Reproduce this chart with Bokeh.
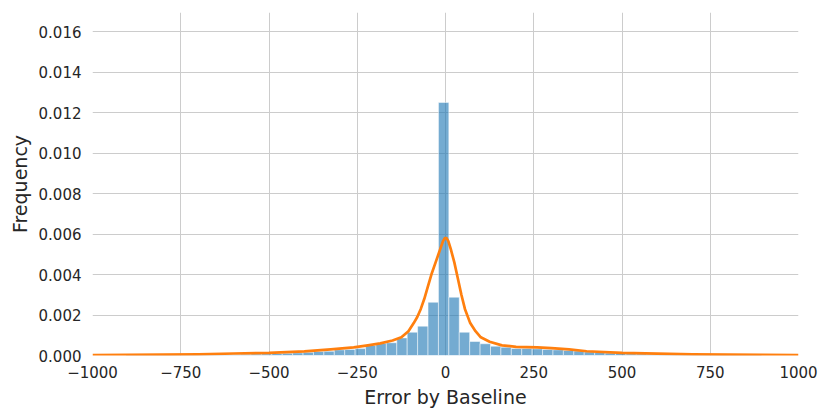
import numpy as np
from bokeh.plotting import figure
from bokeh.models import Range1d, FixedTicker, ColumnDataSource
from bokeh.embed import file_html
from bokeh.resources import INLINE

# Histogram (density) of errors: bins of equal width starting at BIN_START
BIN_START = -905.0
BIN_WIDTH = 29.5
hist_density = [
    0.00002, 0.00002, 0.00002, 0.00003, 0.00003, 0.00003, 0.00004, 0.00004, 0.00004, 0.00005,
    0.00005, 0.00006, 0.00007, 0.00008, 0.00010, 0.00011, 0.00013, 0.00016, 0.00020, 0.00021,
    0.00028, 0.00030, 0.00034, 0.00050, 0.00060, 0.00063, 0.00087, 0.00115, 0.00145, 0.00263,
    0.01250,
    0.00288, 0.00115, 0.00069, 0.00058, 0.00046, 0.00041, 0.00035, 0.00035, 0.00033, 0.00030,
    0.00028, 0.00025, 0.00022, 0.00018, 0.00015, 0.00012, 0.00010, 0.00008, 0.00007, 0.00006,
    0.00005, 0.00005, 0.00004, 0.00004, 0.00004, 0.00003, 0.00003, 0.00003, 0.00002, 0.00002,
]

# KDE curve
kde_x = [-1000, -900, -800, -700, -600, -500, -400, -325, -260, -220, -185, -150, -125, -105,
         -90, -80, -70, -60, -50, -40, -30, -20, -13, -7, -2, 3, 8, 15, 25, 35, 45, 55, 70, 85,
         100, 125, 160, 200, 260, 300, 350, 400, 500, 600, 700, 800, 900, 1000]
kde_y = [0.00002, 0.00003, 0.00004, 0.00006, 0.00010, 0.00013, 0.00020, 0.00030, 0.00040,
         0.00050, 0.00060, 0.00074, 0.00090, 0.00120, 0.00160, 0.00190, 0.00230, 0.00280,
         0.00340, 0.00400, 0.00450, 0.00500, 0.00535, 0.00565, 0.00580, 0.00580, 0.00565,
         0.00525, 0.00460, 0.00380, 0.00300, 0.00230, 0.00160, 0.00120, 0.00090, 0.00068,
         0.00050, 0.00043, 0.00040, 0.00036, 0.00030, 0.00021, 0.00013, 0.00009, 0.00006,
         0.00004, 0.00003, 0.00002]

x_ticks = [-1000, -750, -500, -250, 0, 250, 500, 750, 1000]
x_tick_labels = ["\u22121000", "\u2212750", "\u2212500", "\u2212250", "0", "250", "500", "750", "1000"]
y_ticks = [0.000, 0.002, 0.004, 0.006, 0.008, 0.010, 0.012, 0.014, 0.016]
y_tick_labels = ["0.000", "0.002", "0.004", "0.006", "0.008", "0.010", "0.012", "0.014", "0.016"]

edges = BIN_START + BIN_WIDTH * np.arange(len(hist_density) + 1)
src = ColumnDataSource(dict(left=edges[:-1], right=edges[1:], top=hist_density,
                            bottom=[0] * len(hist_density)))

p = figure(width=822, height=410, output_backend="svg", toolbar_location=None,
           x_range=Range1d(-1000, 1000), y_range=Range1d(0, 0.01694),
           min_border_left=92, min_border_right=24, min_border_top=12, min_border_bottom=55)
p.outline_line_color = None
p.background_fill_color = "white"

p.quad(left="left", right="right", top="top", bottom="bottom", source=src,
       fill_color="#1f77b4", fill_alpha=0.62, line_color="white", line_alpha=0.5, line_width=1)
p.line(kde_x, kde_y, line_color="#ff7f0e", line_width=2.7, line_join="round")

for ax in (p.xaxis[0], p.yaxis[0]):
    ax.axis_line_color = None
    ax.major_tick_line_color = None
    ax.minor_tick_line_color = None
    ax.major_label_text_font = "DejaVu Sans"
    ax.major_label_text_font_size = "15px"
    ax.major_label_text_color = "#262626"
    ax.axis_label_text_font = "DejaVu Sans"
    ax.axis_label_text_font_size = "19px"
    ax.axis_label_text_font_style = "normal"
    ax.axis_label_text_color = "#262626"

p.xaxis.ticker = FixedTicker(ticks=x_ticks)
p.xaxis.major_label_overrides = {t: l for t, l in zip(x_ticks, x_tick_labels)}
p.yaxis.ticker = FixedTicker(ticks=y_ticks)
p.yaxis.major_label_overrides = {t: l for t, l in zip(y_ticks, y_tick_labels)}
p.xaxis.axis_label = "Error by Baseline"
p.yaxis.axis_label = "Frequency"
p.xaxis.major_label_standoff = 4
p.xaxis.axis_label_standoff = 5
p.yaxis.major_label_standoff = 5
p.yaxis.axis_label_standoff = 5

p.xgrid.grid_line_color = "#cccccc"
p.ygrid.grid_line_color = "#cccccc"
p.xgrid.grid_line_width = 1
p.ygrid.grid_line_width = 1

open("out.html", "w").write(file_html(p, INLINE))
